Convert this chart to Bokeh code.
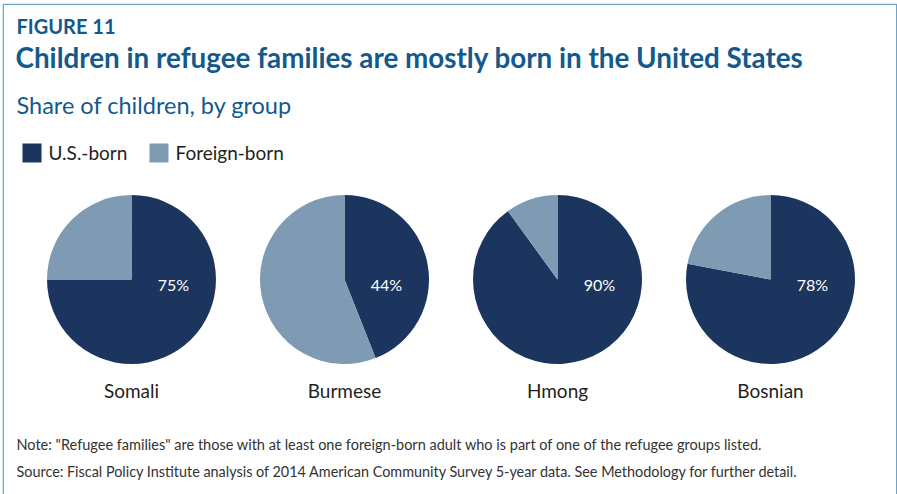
import math
from bokeh.plotting import figure
from bokeh.models import Range1d
from bokeh.core.properties import value
from bokeh.embed import file_html
from bokeh.resources import INLINE

# ---- data ----
groups = ["Somali", "Burmese", "Hmong", "Bosnian"]
us_born = [75, 44, 90, 78]          # percent U.S.-born
series_names = ["U.S.-born", "Foreign-born"]
colors = ["#1c355e", "#7f9bb4"]

title_kicker = "FIGURE 11"
title_text = "Children in refugee families are mostly born in the United States"
subtitle_text = "Share of children, by group"
note_text = 'Note: "Refugee families" are those with at least one foreign-born adult who is part of one of the refugee groups listed.'
source_text = "Source: Fiscal Policy Institute analysis of 2014 American Community Survey 5-year data. See Methodology for further detail."

# ---- layout (page pixel coords) ----
OX, OY = 2, 3
W, H = 895, 491
FONT = "Lato"
BLUE = "#14598c"
TXT = "#231f20"
BORDER = "#6fa6c8"


def X(sx):
    return sx - OX


def Y(sy):
    return H - (sy - OY)


p = figure(width=W, height=H, output_backend="svg", toolbar_location=None,
           x_range=Range1d(0, W), y_range=Range1d(0, H),
           min_border=0, min_border_left=0, min_border_right=0,
           min_border_top=0, min_border_bottom=0)
p.axis.visible = False
p.grid.visible = False
p.background_fill_color = "white"
p.border_fill_color = "white"
p.outline_line_color = None
p.styles = {"margin-left": f"{OX}px", "margin-top": f"{OY}px"}

# frame border (left, top, right)
p.line(x=[0.75, 0.75, W - 0.75, W - 0.75], y=[0, H - 0.75, H - 0.75, 0],
       line_color=BORDER, line_width=1.5)

# titles
p.text(x=[X(16)], y=[Y(25.5)], text=[title_kicker], text_font=value(FONT),
       text_font_size="20px", text_font_style="bold", text_color=BLUE,
       text_baseline="alphabetic")
p.text(x=[X(15)], y=[Y(56.5)], text=[title_text], text_font=value(FONT),
       text_font_size="27.8px", text_font_style="bold", text_color=BLUE,
       text_baseline="alphabetic")
p.text(x=[X(16)], y=[Y(104)], text=[subtitle_text], text_font=value(FONT),
       text_font_size="23.5px", text_color=BLUE, text_baseline="alphabetic")

# legend
leg_x = [22, 149]
for i, name in enumerate(series_names):
    p.rect(x=[X(leg_x[i] + 9.5)], y=[Y(152.5)], width=19, height=19,
           width_units="screen", height_units="screen",
           fill_color=colors[i], line_color=None)
    p.text(x=[X(leg_x[i] + 26)], y=[Y(152)], text=[name], text_font=value(FONT),
           text_font_size="19px", text_color=TXT, text_baseline="alphabetic")

# pies
centers = [131, 344, 557, 770]
cy = 279
R = 84.5
for i, g in enumerate(groups):
    frac = us_born[i] / 100.0
    cx = X(centers[i])
    yy = Y(cy)
    top = math.pi / 2
    p.wedge(x=[cx], y=[yy], radius=R, radius_units="screen",
            start_angle=top - 2 * math.pi * frac, end_angle=top,
            direction="anticlock", fill_color=colors[0], line_color=None)
    p.wedge(x=[cx], y=[yy], radius=R, radius_units="screen",
            start_angle=top, end_angle=top - 2 * math.pi * frac,
            direction="anticlock", fill_color=colors[1], line_color=None)
    p.text(x=[cx + 42], y=[yy - 5], text=[f"{us_born[i]}%"], text_font=value(FONT),
           text_font_size="16px", text_color="white", text_align="center",
           text_baseline="middle")
    p.text(x=[cx], y=[Y(390)], text=[g], text_font=value(FONT),
           text_font_size="19px", text_color=TXT, text_align="center",
           text_baseline="alphabetic")

# notes
p.text(x=[X(16)], y=[Y(444)], text=[note_text], text_font=value(FONT),
       text_font_size="14.5px", text_color="#333333", text_baseline="alphabetic")
p.text(x=[X(16)], y=[Y(471)], text=[source_text], text_font=value(FONT),
       text_font_size="14.4px", text_color="#333333", text_baseline="alphabetic")

open("out.html", "w").write(file_html(p, INLINE))
